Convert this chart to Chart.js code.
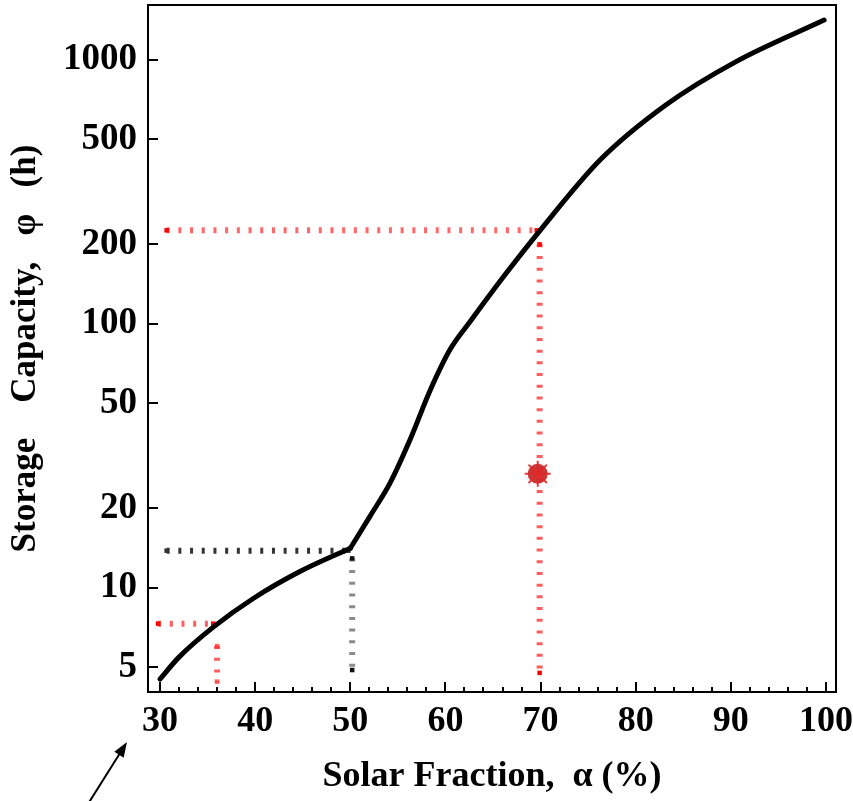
<!DOCTYPE html>
<html>
<head>
<meta charset="utf-8">
<style>
  html, body { margin: 0; padding: 0; background: #fff; }
</style>
</head>
<body>
<canvas id="myChart" width="853" height="801"></canvas>

<script src="https://cdn.jsdelivr.net/npm/chart.js"></script>
<script>
  // main curve: storage capacity (h) vs solar fraction (%)
  const solarFraction = [30, 32, 35.6, 39.8, 44.7, 50, 52.1, 54.2, 56.3, 58.4, 60.5, 62.6, 66.3, 70, 76.3, 83.2, 90.5, 99.8]
  const storageHours = [4.5, 5.45, 7.08, 9.09, 11.5, 14.1, 18.7, 25, 36.5, 56, 80, 102, 154, 227, 419, 676, 983, 1416]
  const kinkAt = 50 // the curve breaks sharply here

  const xTickValues = [30, 40, 50, 60, 70, 80, 90, 100]
  const xMinorStep = 2
  const yTickValues = [5, 10, 20, 50, 100, 200, 500, 1000]
  const xRange = [28.74, 101.05]
  const yRange = [4.02, 1615]

  // dotted read-off lines
  const lowGuideX = [29.8, 35.6], lowGuideY = [7.3, 7.3]
  const lowDropX = [36, 36], lowDropY = [6.0, 4.4]
  const midGuideX = [30.7, 49.8], midGuideY = [13.8, 13.8]
  const midDropX = [50.2, 50.2], midDropY = [12.9, 4.87]
  const highGuideX = [30.7, 69.6], highGuideY = [226, 226]
  const highDropX = [69.9, 69.9], highDropY = [200, 4.75]
  const markerX = [69.7], markerY = [27]

  const pts = (xs, ys) => xs.map((x, i) => ({x: x, y: ys[i]}))
  const curve = pts(solarFraction, storageHours)
  const lowBranch = curve.filter(p => p.x <= kinkAt)
  const highBranch = curve.filter(p => p.x >= kinkAt)

  function branch(data) {
    return {
      data: data,
      borderColor: '#000',
      borderWidth: 5,
      borderCapStyle: 'round',
      borderJoinStyle: 'round',
      cubicInterpolationMode: 'monotone',
      pointRadius: 0,
      fill: false,
      order: 1
    }
  }

  function guide(xs, ys, color, endColor) {
    return {
      type: 'line',
      data: pts(xs, ys),
      borderColor: color,
      borderWidth: 6,
      borderDash: [3, 8.7],
      borderCapStyle: 'butt',
      pointStyle: 'rect',
      pointRadius: 3.2,
      pointBorderWidth: 0,
      pointBackgroundColor: endColor,
      fill: false,
      order: 2
    }
  }

  // no extra room for overhanging labels, the plot box is fixed
  function noPad(s) {
    s.paddingTop = 0
    s.paddingBottom = 0
    s.paddingLeft = 0
    s.paddingRight = 0
  }

  const frameAndTicks = {
    id: 'frameAndTicks',
    afterDraw(chart) {
      const {ctx, chartArea: a, scales: {x, y}} = chart
      ctx.save()
      ctx.strokeStyle = '#000'
      ctx.lineWidth = 2
      ctx.strokeRect(a.left, a.top, a.right - a.left, a.bottom - a.top)
      ctx.beginPath()
      for (let v = xTickValues[0]; v <= xTickValues[xTickValues.length - 1]; v += xMinorStep) {
        const px = Math.round(x.getPixelForValue(v))
        const len = v % 10 === 0 ? 10 : 5
        ctx.moveTo(px, a.bottom)
        ctx.lineTo(px, a.bottom - len)
      }
      yTickValues.forEach(v => {
        const py = Math.round(y.getPixelForValue(v))
        ctx.moveTo(a.left, py)
        ctx.lineTo(a.left + 10, py)
      })
      ctx.stroke()

      // arrow pointing at the origin label
      const x30 = x.getPixelForValue(xTickValues[0])
      const tip = {x: x30 - 33, y: a.bottom + 50}
      const tail = {x: x30 - 72, y: a.bottom + 112}
      const ang = Math.atan2(tip.y - tail.y, tip.x - tail.x)
      ctx.lineWidth = 2
      ctx.beginPath()
      ctx.moveTo(tail.x, tail.y)
      ctx.lineTo(tip.x - 10 * Math.cos(ang), tip.y - 10 * Math.sin(ang))
      ctx.stroke()
      ctx.fillStyle = '#000'
      ctx.beginPath()
      ctx.moveTo(tip.x, tip.y)
      ctx.lineTo(tip.x - 15 * Math.cos(ang) + 5.5 * Math.sin(ang), tip.y - 15 * Math.sin(ang) - 5.5 * Math.cos(ang))
      ctx.lineTo(tip.x - 15 * Math.cos(ang) - 5.5 * Math.sin(ang), tip.y - 15 * Math.sin(ang) + 5.5 * Math.cos(ang))
      ctx.closePath()
      ctx.fill()
      ctx.restore()
    }
  }

  const serif = 'Liberation Serif'
  const ctx = document.getElementById('myChart')

  new Chart(ctx, {
    type: 'line',
    data: {
      datasets: [
        branch(lowBranch),
        branch(highBranch),
        guide(lowGuideX, lowGuideY, 'rgba(255,40,40,0.75)', '#ff0000'),
        guide(lowDropX, lowDropY, 'rgba(255,40,40,0.75)', 'rgba(255,40,40,0.75)'),
        guide(midGuideX, midGuideY, '#333', '#333'),
        guide(midDropX, midDropY, '#8a8a8a', '#111'),
        guide(highGuideX, highGuideY, 'rgba(255,40,40,0.7)', '#ff0000'),
        guide(highDropX, highDropY, 'rgba(255,40,40,0.75)', '#ff0000'),
        {
          data: pts(markerX, markerY),
          showLine: false,
          pointStyle: 'star',
          pointRadius: 13,
          pointBorderWidth: 2,
          pointBorderColor: 'rgba(225,40,40,0.9)',
          pointBackgroundColor: 'rgba(225,40,40,0.9)',
          order: 0
        },
        {
          data: pts(markerX, markerY),
          showLine: false,
          pointStyle: 'circle',
          pointRadius: 10,
          pointBorderWidth: 0,
          pointBackgroundColor: 'rgba(200,45,45,0.95)',
          order: 0
        }
      ]
    },
    options: {
      responsive: false,
      animation: false,
      layout: {autoPadding: false, padding: {left: 0, right: 17, top: 5, bottom: 0}},
      plugins: {legend: {display: false}, tooltip: {enabled: false}},
      scales: {
        x: {
          type: 'linear',
          min: xRange[0],
          max: xRange[1],
          afterBuildTicks: s => { s.ticks = xTickValues.map(v => ({value: v})) },
          afterFit: s => { s.height = 109; noPad(s) },
          grid: {display: false, drawTicks: false},
          border: {display: false},
          ticks: {
            padding: 8,
            color: '#000',
            font: {family: serif, size: 36, weight: 'bold'},
            callback: v => String(v),
            maxRotation: 0
          },
          title: {
            display: true,
            text: 'Solar Fraction,  α (%)',
            color: '#000',
            font: {family: serif, size: 36, weight: 'bold'},
            padding: {top: 0, bottom: 3}
          }
        },
        y: {
          type: 'logarithmic',
          min: yRange[0],
          max: yRange[1],
          afterBuildTicks: s => { s.ticks = yTickValues.map(v => ({value: v})) },
          afterFit: s => { s.width = 148; noPad(s) },
          grid: {display: false, drawTicks: false},
          border: {display: false},
          ticks: {
            padding: 11,
            color: '#000',
            font: {family: serif, size: 37, weight: 'bold'},
            callback: v => String(v)
          },
          title: {
            display: true,
            text: 'Storage    Capacity,   φ   (h)',
            color: '#000',
            font: {family: serif, size: 35, weight: 'bold'},
            padding: {top: 5, bottom: 0}
          }
        }
      }
    },
    plugins: [frameAndTicks]
  })
</script>
</body>
</html>
